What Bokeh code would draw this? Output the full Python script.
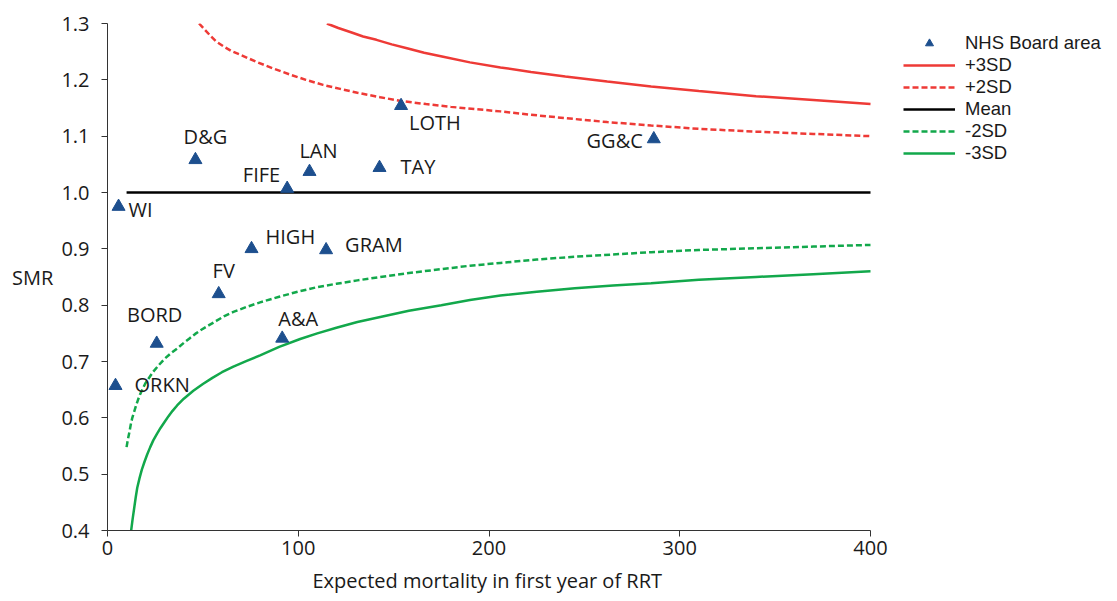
from bokeh.plotting import figure
from bokeh.models import (ColumnDataSource, Legend, LegendItem, Range1d, Title,
                          FixedTicker, NumeralTickFormatter)
from bokeh.core.properties import value
from bokeh.embed import file_html
from bokeh.resources import INLINE

# ---- data ----
boards = ["WI", "ORKN", "BORD", "D&G", "FV", "HIGH", "A&A", "FIFE", "LAN", "GRAM", "TAY", "LOTH", "GG&C"]
expected = [5.8, 4.2, 25.8, 46.1, 58.3, 75.5, 91.6, 94.2, 105.9, 114.6, 142.6, 153.9, 286.4]
smr = [0.975, 0.657, 0.732, 1.058, 0.820, 0.900, 0.741, 1.007, 1.037, 0.898, 1.044, 1.154, 1.095]

plus3_x = [115, 121, 128, 134, 141, 149, 157, 166, 176, 190, 206, 222, 240, 262, 285, 310, 340, 370, 400]
plus3_y = [1.300, 1.292, 1.284, 1.277, 1.271, 1.263, 1.256, 1.248, 1.241, 1.231, 1.222, 1.214, 1.206, 1.197,
           1.188, 1.180, 1.171, 1.164, 1.157]

plus2_x = [48, 51, 54, 57, 61, 65, 70, 74, 78, 87, 96, 104, 113, 122, 131, 143, 155, 167, 180, 193, 206, 222,
           240, 262, 285, 310, 340, 370, 400]
plus2_y = [1.300, 1.289, 1.278, 1.268, 1.259, 1.251, 1.244, 1.238, 1.232, 1.220, 1.209, 1.200, 1.191, 1.184,
           1.177, 1.169, 1.162, 1.157, 1.152, 1.148, 1.144, 1.138, 1.132, 1.125, 1.119, 1.113, 1.108, 1.104, 1.100]

mean_x = [10, 400]
mean_y = [1.0, 1.0]

minus2_x = [10, 10.7, 11.5, 12.2, 13, 14, 15, 16, 17, 18.5, 20, 22, 24, 27, 30, 33, 36.5, 40, 43, 46, 49, 53,
            57, 61, 66, 73, 80, 90, 101, 110, 120, 131, 143, 158, 175, 190, 206, 225, 245, 265, 285, 310, 340,
            370, 400]
minus2_y = [0.548, 0.562, 0.575, 0.588, 0.600, 0.611, 0.622, 0.632, 0.641, 0.652, 0.662, 0.672, 0.682, 0.694,
            0.705, 0.714, 0.723, 0.733, 0.741, 0.749, 0.756, 0.764, 0.772, 0.780, 0.788, 0.797, 0.805, 0.815,
            0.825, 0.832, 0.838, 0.844, 0.850, 0.857, 0.864, 0.870, 0.875, 0.881, 0.886, 0.890, 0.894, 0.898,
            0.901, 0.904, 0.907]

minus3_x = [12.4, 13.2, 14, 14.8, 15.6, 16.8, 18, 19.4, 20.8, 22.4, 24, 26, 27.8, 30, 32, 34, 36.5, 40, 45, 50,
            55, 60, 66, 73, 80, 90, 101, 110, 120, 131, 143, 158, 175, 190, 206, 225, 245, 265, 285, 310, 340,
            370, 400]
minus3_y = [0.400, 0.421, 0.440, 0.459, 0.476, 0.493, 0.508, 0.522, 0.535, 0.548, 0.560, 0.572, 0.582, 0.593,
            0.603, 0.612, 0.622, 0.634, 0.648, 0.660, 0.671, 0.681, 0.691, 0.701, 0.711, 0.726, 0.740, 0.750,
            0.760, 0.770, 0.779, 0.790, 0.800, 0.809, 0.817, 0.824, 0.830, 0.835, 0.839, 0.845, 0.850, 0.855,
            0.860]

x_ticks = [0, 100, 200, 300, 400]
y_ticks = [0.4, 0.5, 0.6, 0.7, 0.8, 0.9, 1.0, 1.1, 1.2, 1.3]
x_axis_span = (0, 400)
x_title = "Expected mortality in first year of RRT"
y_title = "SMR"
legend_labels = ["NHS Board area", "+3SD", "+2SD", "Mean", "-2SD", "-3SD"]

# label placement (screen pixel offsets, style only)
label_dx = [10, 19, -2, 10, 5, 14, 16, -7, 9, 19, 21, 8, -11]
label_dy = [3, -1, -29, -23, -23, -12, -20, -14, -21, -5, -1, 17, 2]
label_align = ["left", "left", "center", "center", "center", "left", "center", "right", "center",
               "left", "left", "left", "right"]

FONT = "Open Sans"
LEG_FONT = "Liberation Sans"
FS = "20px"
RED = "#ee3a36"
GREEN = "#12a84b"
BLUE = "#1d4f8e"
TXT = "#1a1a1a"

# layout: the data area 0..400 spans 763 px; the frame is widened to hold the legend
W, H = 1117, 601
LEFT, TOP, BOTTOM, RIGHT = 107, 23, 68, 2
AXIS_PX = 763
x_end = x_axis_span[1] * (W - LEFT - RIGHT) / AXIS_PX

p = figure(width=W, height=H, output_backend="svg", toolbar_location=None,
           x_range=Range1d(0, x_end), y_range=Range1d(0.4, 1.3),
           min_border_left=LEFT, min_border_right=RIGHT, min_border_top=TOP, min_border_bottom=BOTTOM)
p.outline_line_color = None
p.grid.visible = False
p.background_fill_color = "white"
p.border_fill_color = "white"

r_p3 = p.line(plus3_x, plus3_y, line_color=RED, line_width=2.5)
r_p2 = p.line(plus2_x, plus2_y, line_color=RED, line_width=2.5, line_dash="6 3")
r_mean = p.line(mean_x, mean_y, line_color="black", line_width=2.5)
r_m2 = p.line(minus2_x, minus2_y, line_color=GREEN, line_width=2.5, line_dash="6 3")
r_m3 = p.line(minus3_x, minus3_y, line_color=GREEN, line_width=2.5)

src = ColumnDataSource(dict(x=expected, y=smr, name=boards, dx=label_dx, dy=label_dy, al=label_align))
r_pts = p.scatter("x", "y", source=src, marker="triangle", size=13,
                  fill_color=BLUE, line_color=BLUE)
p.text("x", "y", text="name", source=src, x_offset="dx", y_offset="dy",
       text_font=value(FONT), text_font_size=FS, text_align="al",
       text_baseline="middle", text_color=TXT)

for ax in (p.xaxis[0], p.yaxis[0]):
    ax.axis_line_color = "#333333"
    ax.axis_line_width = 1
    ax.major_tick_line_color = "#333333"
    ax.major_tick_in = 0
    ax.major_tick_out = 6
    ax.minor_tick_line_color = None
    ax.major_label_text_font = FONT
    ax.major_label_text_font_size = FS
    ax.major_label_text_color = TXT
    ax.axis_label_text_font = FONT
    ax.axis_label_text_font_size = FS
    ax.axis_label_text_font_style = "normal"
    ax.axis_label_text_color = TXT

p.xaxis.bounds = x_axis_span
p.xaxis.ticker = FixedTicker(ticks=x_ticks)
p.yaxis.ticker = FixedTicker(ticks=y_ticks)
p.yaxis.formatter = NumeralTickFormatter(format="0.0")
p.yaxis.major_label_standoff = 12
p.xaxis.major_label_standoff = 4
p.yaxis.axis_label = y_title
p.yaxis.axis_label_orientation = "horizontal"
p.yaxis.axis_label_standoff = 5

# x-axis title centred under the 0..400 axis (not the widened frame)
xt = Title(text=x_title, align="left", offset=205, standoff=15,
           text_font=FONT, text_font_size=FS, text_font_style="normal", text_color=TXT)
p.add_layout(xt, "below")

legend = Legend(items=[
    LegendItem(label=lab, renderers=[r])
    for lab, r in zip(legend_labels, [r_pts, r_p3, r_p2, r_mean, r_m2, r_m3])
], location=(796, 366))
legend.background_fill_alpha = 0
legend.border_line_alpha = 0
legend.padding = 0
legend.margin = 0
legend.spacing = 0
legend.glyph_width = 52
legend.glyph_height = 20
legend.label_height = 20
legend.label_standoff = 10
legend.label_text_font = LEG_FONT
legend.label_text_font_size = "18.5px"
legend.label_text_color = TXT
p.add_layout(legend)

open("out.html", "w").write(file_html(p, INLINE))
